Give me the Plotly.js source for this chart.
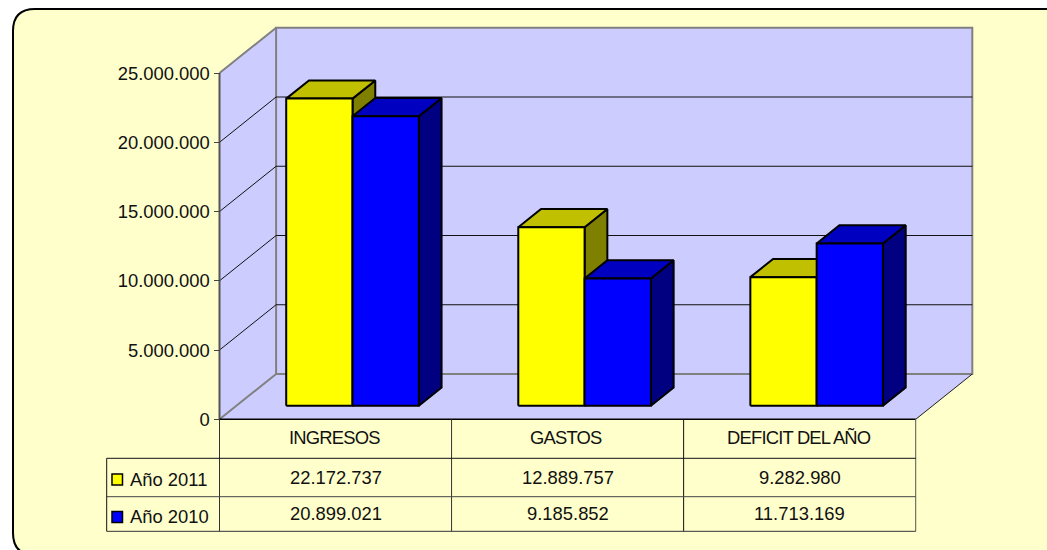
<!DOCTYPE html>
<html>
<head>
<meta charset="utf-8">
<script src="https://cdn.plot.ly/plotly-3.0.1.min.js"></script>
<style>html,body{margin:0;padding:0;background:#fff}#chart{width:1047px;height:550px}</style>
</head>
<body>
<div id="chart"></div>
<script>
const categories = ['INGRESOS', 'GASTOS', 'DEFICIT DEL AÑO'];
const seriesNames = ['Año 2011', 'Año 2010'];
const values2011 = [22172737, 12889757, 9282980];
const values2010 = [20899021, 9185852, 11713169];
const tickValues = [0, 5000000, 10000000, 15000000, 20000000, 25000000];

const WIDTH = 1047, HEIGHT = 550;
const X0 = 219.5, CAT_W = 232.07, Y0 = 419.3, PX_PER_UNIT = 13.85 / 1e6;
const DX = 56.6 / CAT_W, DY = 45.3 / PX_PER_UNIT;
const T_FRONT = 0.3, T_BACK = 0.702, BAR_W = 2 / 7, BAR_START = 3 / 14;
const Y_MAX = tickValues[tickValues.length - 1], N = categories.length;
const fmt = v => String(v).replace(/\B(?=(\d{3})+$)/g, '.');
const px = p => p / WIDTH, py = p => 1 - p / HEIGHT;
const P = (x, v, t) => [x + DX * t, v + DY * t];

const traces = [];
function poly(points, fill, color, width) {
  traces.push({
    type: 'scatter', mode: 'lines', hoverinfo: 'skip', showlegend: false,
    x: points.map(p => p && p[0]), y: points.map(p => p && p[1]),
    fill: fill ? 'toself' : 'none', fillcolor: fill || undefined,
    line: {color: color, width: width, simplify: false}
  });
}
const WALL = '#CCCCFF', GRAY = '#808080';
poly([P(0,0,0), P(0,0,1), P(0,Y_MAX,1), P(0,Y_MAX,0), P(0,0,0)], WALL, WALL, 0.5);
poly([P(0,0,0), P(N,0,0), P(N,0,1), P(0,0,1), P(0,0,0)], WALL, WALL, 0.5);
poly([P(0,0,1), P(N,0,1), P(N,Y_MAX,1), P(0,Y_MAX,1), P(0,0,1)], WALL, GRAY, 2);

const grid = [];
tickValues.slice(1, -1).forEach(v => { grid.push(P(0,v,0), P(0,v,1), P(N,v,1), null); });
poly(grid, null, '#111111', 1);
poly([P(0,Y_MAX,0), P(0,Y_MAX,1), null, P(0,0,0), P(0,0,1)], null, GRAY, 2);
poly([P(N,0,0), P(N,0,1)], null, '#222222', 1);
poly([P(0,0,0), P(0,Y_MAX,0)], null, '#555555', 2);
poly([P(0,0,0), P(N,0,0)], null, '#000000', 1.5);

function bar(xl, v, front, top, side) {
  const xr = xl + BAR_W;
  poly([P(xr,0,T_FRONT), P(xr,0,T_BACK), P(xr,v,T_BACK), P(xr,v,T_FRONT), P(xr,0,T_FRONT)], side, '#000', 2);
  poly([P(xl,v,T_FRONT), P(xr,v,T_FRONT), P(xr,v,T_BACK), P(xl,v,T_BACK), P(xl,v,T_FRONT)], top, '#000', 2);
  poly([P(xl,0,T_FRONT), P(xr,0,T_FRONT), P(xr,v,T_FRONT), P(xl,v,T_FRONT), P(xl,0,T_FRONT)], front, '#000', 2);
}
categories.forEach((c, i) => {
  bar(i + BAR_START, values2011[i], '#FFFF00', '#C0C000', '#808000');
  bar(i + BAR_START + BAR_W, values2010[i], '#0000FF', '#0000C0', '#000080');
});

const rowY = [419.3, 458.3, 496.7, 531.3];
const colX = [X0, X0 + CAT_W, X0 + 2 * CAT_W, X0 + 3 * CAT_W];
const TABLE_L = 106.7;
const seg = (x0, y0, x1, y1, c) => ({type: 'line', xref: 'paper', yref: 'paper', x0: px(x0), y0: py(y0), x1: px(x1), y1: py(y1), line: {color: c, width: 1}, layer: 'above'});
const key = (y, c) => ({type: 'rect', xref: 'paper', yref: 'paper', x0: px(112), x1: px(122.5), y0: py(y - 5.5), y1: py(y + 5.5), fillcolor: c, line: {color: '#000', width: 1.5}, layer: 'above'});

const L = 13, T = 9, R = 1067, B = 555, RAD = 22;
const bgPath = 'M' + px(L) + ',' + py(T + RAD) + ' Q' + px(L) + ',' + py(T) + ' ' + px(L + RAD) + ',' + py(T) +
  ' L' + px(R - RAD) + ',' + py(T) + ' Q' + px(R) + ',' + py(T) + ' ' + px(R) + ',' + py(T + RAD) +
  ' L' + px(R) + ',' + py(B - RAD) + ' Q' + px(R) + ',' + py(B) + ' ' + px(R - RAD) + ',' + py(B) +
  ' L' + px(L + RAD) + ',' + py(B) + ' Q' + px(L) + ',' + py(B) + ' ' + px(L) + ',' + py(B - RAD) + ' Z';

const shapes = [
  {type: 'path', xref: 'paper', yref: 'paper', path: bgPath, fillcolor: '#FFFFCC', line: {color: '#000', width: 2}, layer: 'below'},
  seg(colX[0], rowY[0], colX[0], rowY[3], '#333'),
  seg(colX[1], rowY[0], colX[1], rowY[3], '#333'),
  seg(colX[2], rowY[0], colX[2], rowY[3], '#111'),
  seg(colX[3], rowY[0], colX[3], rowY[3], '#555'),
  seg(TABLE_L, rowY[1], colX[3], rowY[1], '#111'),
  seg(TABLE_L, rowY[2], colX[3], rowY[2], '#444'),
  seg(TABLE_L, rowY[3], colX[3], rowY[3], '#333'),
  seg(TABLE_L, rowY[1], TABLE_L, rowY[3], '#111'),
  key(479.5, '#FFFF00'), key(517, '#0000FF')
];

const FONT = 'Liberation Sans, Arial, sans-serif', TEXT = '#111111';
const ann = (x, y, text, xanchor, xref) => ({
  xref: xref, yref: 'paper', x: x, y: py(y), text: text, showarrow: false,
  xanchor: xanchor, yanchor: 'middle', font: {family: FONT, size: 18.4, color: TEXT}, borderpad: 0
});
const annotations = [];
categories.forEach((c, i) => {
  annotations.push(ann(i + 0.495, 437, '<span style="letter-spacing:-0.8px">' + c + '</span>', 'center', 'x'));
  annotations.push(ann(i + 0.5, 477, fmt(values2011[i]), 'center', 'x'));
  annotations.push(ann(i + 0.5, 513.5, fmt(values2010[i]), 'center', 'x'));
});
annotations.push(ann(px(129), 479.5, seriesNames[0], 'left', 'paper'));
annotations.push(ann(px(129), 516.5, seriesNames[1], 'left', 'paper'));

const layout = {
  width: WIDTH, height: HEIGHT, margin: {l: 0, r: 0, t: 0, b: 0, pad: 0},
  paper_bgcolor: '#FFFFFF', plot_bgcolor: 'rgba(0,0,0,0)', showlegend: false,
  font: {family: FONT, color: TEXT},
  xaxis: {range: [-X0 / CAT_W, (WIDTH - X0) / CAT_W], visible: false, fixedrange: true},
  yaxis: {
    range: [-(HEIGHT - Y0) / PX_PER_UNIT, Y0 / PX_PER_UNIT], anchor: 'free', position: X0 / WIDTH,
    tickmode: 'array', tickvals: tickValues, ticktext: tickValues.map(fmt),
    ticks: 'outside', ticklen: 6, tickwidth: 1, tickcolor: '#444',
    tickfont: {family: FONT, size: 18.4, color: TEXT},
    showgrid: false, zeroline: false, showline: false, automargin: false, fixedrange: true
  },
  shapes: shapes, annotations: annotations
};
Plotly.newPlot('chart', traces, layout, {staticPlot: true, displayModeBar: false});
</script>
</body>
</html>
